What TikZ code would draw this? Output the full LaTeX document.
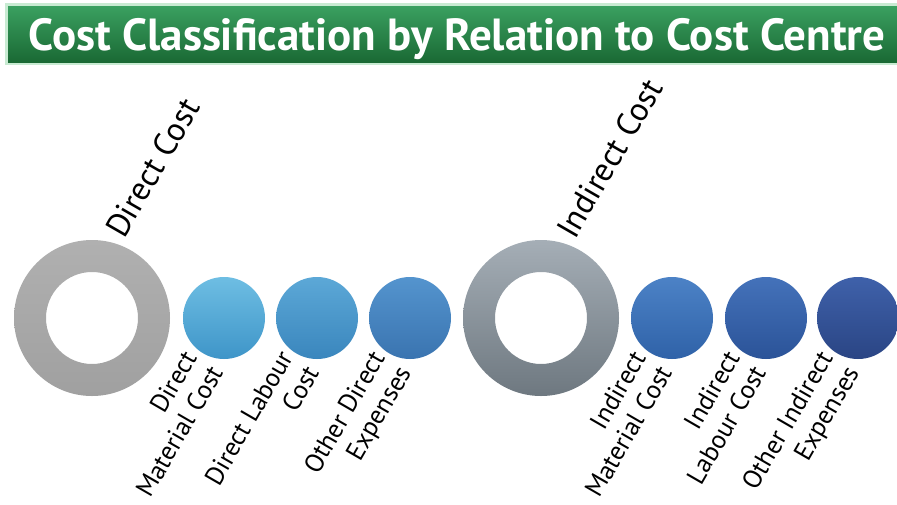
\documentclass[tikz,border=0pt]{standalone}
\usepackage{fontspec}
\setmainfont{PT Sans}
\definecolor{bartop}{RGB}{58,160,96}
\definecolor{barbot}{RGB}{26,105,52}
\definecolor{barglow}{RGB}{200,235,210}
\definecolor{ringAt}{RGB}{176,176,176}
\definecolor{ringAb}{RGB}{160,160,160}
\definecolor{ringBt}{RGB}{165,174,182}
\definecolor{ringBb}{RGB}{110,120,128}
\definecolor{cAt}{RGB}{110,190,227}
\definecolor{cAb}{RGB}{62,149,200}
\definecolor{cBt}{RGB}{92,168,215}
\definecolor{cBb}{RGB}{58,134,189}
\definecolor{cCt}{RGB}{84,148,206}
\definecolor{cCb}{RGB}{58,116,176}
\definecolor{cDt}{RGB}{76,130,198}
\definecolor{cDb}{RGB}{47,98,168}
\definecolor{cEt}{RGB}{68,114,186}
\definecolor{cEb}{RGB}{43,83,152}
\definecolor{cFt}{RGB}{63,97,170}
\definecolor{cFb}{RGB}{42,69,132}
\begin{document}
\begin{tikzpicture}[x=1pt,y=1pt,
  bigring/.style={even odd rule},
  dot/.style={circle,minimum size=82pt,inner sep=0pt},
  sublabel/.style={rotate=60,anchor=north east,align=right,inner sep=0pt,
    font=\fontsize{26}{30}\selectfont},
  mainlabel/.style={rotate=60,anchor=base west,inner sep=0pt,
    font=\fontsize{33}{36}\selectfont}]
\useasboundingbox (0,0) rectangle (897,-504);
\fill[white] (0,0) rectangle (897,-504);
% title bar
\fill[barglow] (5,-3) rectangle (897,-65);
\shade[top color=bartop,bottom color=barbot] (8,-6) rectangle (897,-62);
\node[text=white,font=\bfseries\fontsize{45}{48}\selectfont,inner sep=0pt,anchor=base] (title) at (457,-50)
  {Cost Classification by Relation to Cost Centre};
% rings
\coordinate (r1) at (92,-318);
\coordinate (r2) at (541,-318);
\shade[bigring,top color=ringAt,bottom color=ringAb] (r1) circle (78) (r1) circle (46);
\shade[bigring,top color=ringBt,bottom color=ringBb] (r2) circle (78) (r2) circle (46);
% dots
\node[dot,top color=cAt,bottom color=cAb] (c1) at (224,-318) {};
\node[dot,top color=cBt,bottom color=cBb] (c2) at (317,-318) {};
\node[dot,top color=cCt,bottom color=cCb] (c3) at (410,-318) {};
\node[dot,top color=cDt,bottom color=cDb] (c4) at (672,-318) {};
\node[dot,top color=cEt,bottom color=cEb] (c5) at (766,-318) {};
\node[dot,top color=cFt,bottom color=cFb] (c6) at (858,-318) {};
% main labels
\node[mainlabel] (ldirect) at (124,-240) {Direct Cost};
\node[mainlabel] (lindirect) at (575,-241) {Indirect Cost};
% sub labels
\node[sublabel] (l1) at ([shift={(-42,-30)}]c1.center) {Direct\\Material Cost};
\node[sublabel] (l2) at ([shift={(-39,-30)}]c2.center) {Direct Labour\\Cost};
\node[sublabel] (l3) at ([shift={(-40,-30)}]c3.center) {Other Direct\\Expenses};
\node[sublabel] (l4) at ([shift={(-41,-30)}]c4.center) {Indirect\\Material Cost};
\node[sublabel] (l5) at ([shift={(-41,-30)}]c5.center) {Indirect\\Labour Cost};
\node[sublabel] (l6) at ([shift={(-40,-30)}]c6.center) {Other Indirect\\Expenses};
\end{tikzpicture}
\end{document}
